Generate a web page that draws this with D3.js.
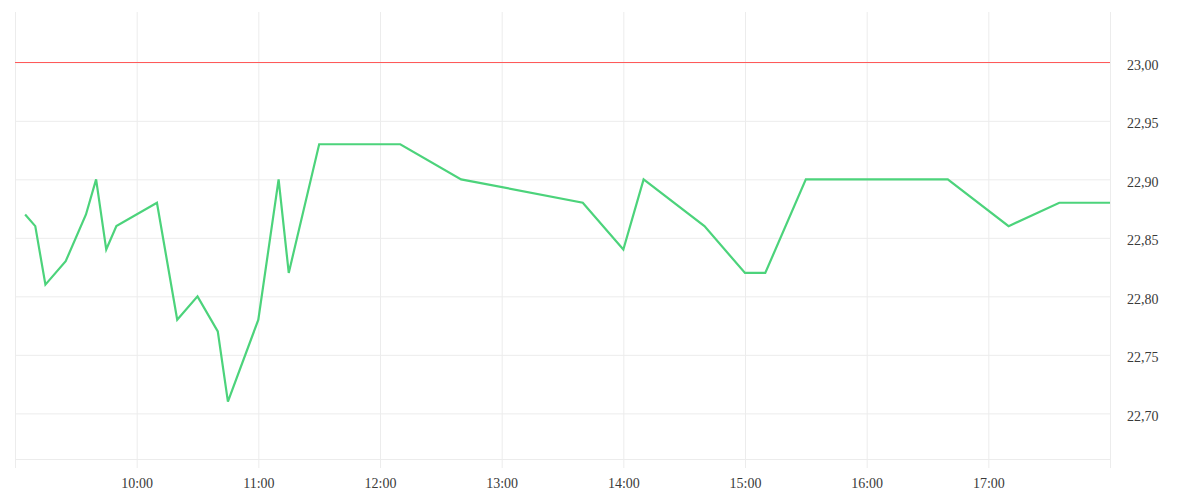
<!DOCTYPE html>
<html>
<head>
<meta charset="utf-8">
<script src="https://cdn.jsdelivr.net/npm/d3@7"></script>
<style>
    body { margin: 0; background: #fff; }
    .axis text { font-family: "Liberation Serif", serif; font-size: 14px; fill: #3a3a3a; }
    .axis .domain { display: none; }
    .axis line { stroke: #ececec; }
</style>
</head>
<body>
<script>
// data
var times  = ['09:05', '09:10', '09:15', '09:25', '09:35', '09:40', '09:45', '09:50', '10:10', '10:20',
              '10:30', '10:40', '10:45', '11:00', '11:10', '11:15', '11:30', '12:10', '12:40', '13:40',
              '14:00', '14:10', '14:40', '15:00', '15:10', '15:30', '16:40', '17:10', '17:35', '18:00'];
var prices = [22.87, 22.86, 22.81, 22.83, 22.87, 22.90, 22.84, 22.86, 22.88, 22.78,
              22.80, 22.77, 22.71, 22.78, 22.90, 22.82, 22.93, 22.93, 22.90, 22.88,
              22.84, 22.90, 22.86, 22.82, 22.82, 22.90, 22.90, 22.86, 22.88, 22.88];
var hourTicks  = ['09:00', '10:00', '11:00', '12:00', '13:00', '14:00', '15:00', '16:00', '17:00', '18:00'];
var priceTicks = [22.70, 22.75, 22.80, 22.85, 22.90, 22.95, 23.00];
var limitPrice = 23.00;
var yDomain    = [22.661, 23.043];

// init
var margin = { top: 12, right: 90, bottom: 41, left: 15 },
    width  = 1200 - margin.left - margin.right,
    height = 500 - margin.top - margin.bottom;

var parseTime = function(s) { return d3.timeParse('%Y-%m-%d %H:%M')('2024-01-15 ' + s); };

var data = times.map(function(t, i) { return { date: parseTime(t), value: prices[i] }; });

// scales
var xScale = d3.scaleTime()
    .domain([parseTime(hourTicks[0]), parseTime(hourTicks[hourTicks.length - 1])])
    .range([0, width]);

var yScale = d3.scaleLinear().domain(yDomain).range([height, 0]);

// svg
var svg = d3.select('body')
    .append('svg')
    .attr('width', width + margin.left + margin.right)
    .attr('height', height + margin.top + margin.bottom)
    .append('g')
    .attr('transform', 'translate(' + margin.left + ',' + margin.top + ')');

// vertical grid + x labels
var xAxis = svg.append('g')
    .attr('class', 'axis x-axis')
    .attr('transform', 'translate(0,' + height + ')')
    .call(d3.axisBottom(xScale)
        .tickValues(hourTicks.map(parseTime))
        .tickSize(-height)
        .tickPadding(19)
        .tickFormat(function(d, i) {
            return (i === 0 || i === hourTicks.length - 1) ? '' : d3.timeFormat('%H:%M')(d);
        }));
// extend grid lines below the plot
xAxis.selectAll('.tick line').attr('y1', 9).attr('y2', -height);

// horizontal grid
svg.append('g')
    .attr('class', 'axis grid')
    .call(d3.axisLeft(yScale).tickValues(priceTicks).tickSize(-width).tickFormat(''));
svg.append('line')
    .attr('x1', 0).attr('x2', width)
    .attr('y1', height + 0.5).attr('y2', height + 0.5)
    .attr('stroke', '#ececec');

// y labels on the right
var ru = d3.formatLocale({ decimal: ',', thousands: ' ', grouping: [3], currency: ['', ''] });
svg.append('g')
    .attr('class', 'axis y-axis')
    .attr('transform', 'translate(' + width + ',0)')
    .call(d3.axisRight(yScale).tickValues(priceTicks).tickSize(0).tickPadding(17).tickFormat(ru.format('.2f')))
    .selectAll('text').attr('dy', '0.5em');

// limit line
svg.append('line')
    .attr('x1', 0).attr('x2', width)
    .attr('y1', Math.round(yScale(limitPrice)) + 0.5)
    .attr('y2', Math.round(yScale(limitPrice)) + 0.5)
    .attr('stroke', '#ff5a5a')
    .attr('stroke-width', 1);

// price line
svg.append('path')
    .datum(data)
    .attr('fill', 'none')
    .attr('stroke', '#4cd37b')
    .attr('stroke-width', 2.2)
    .attr('stroke-linejoin', 'miter')
    .attr('d', d3.line()
        .x(function(d) { return xScale(d.date); })
        .y(function(d) { return yScale(d.value); }));
</script>
</body>
</html>
